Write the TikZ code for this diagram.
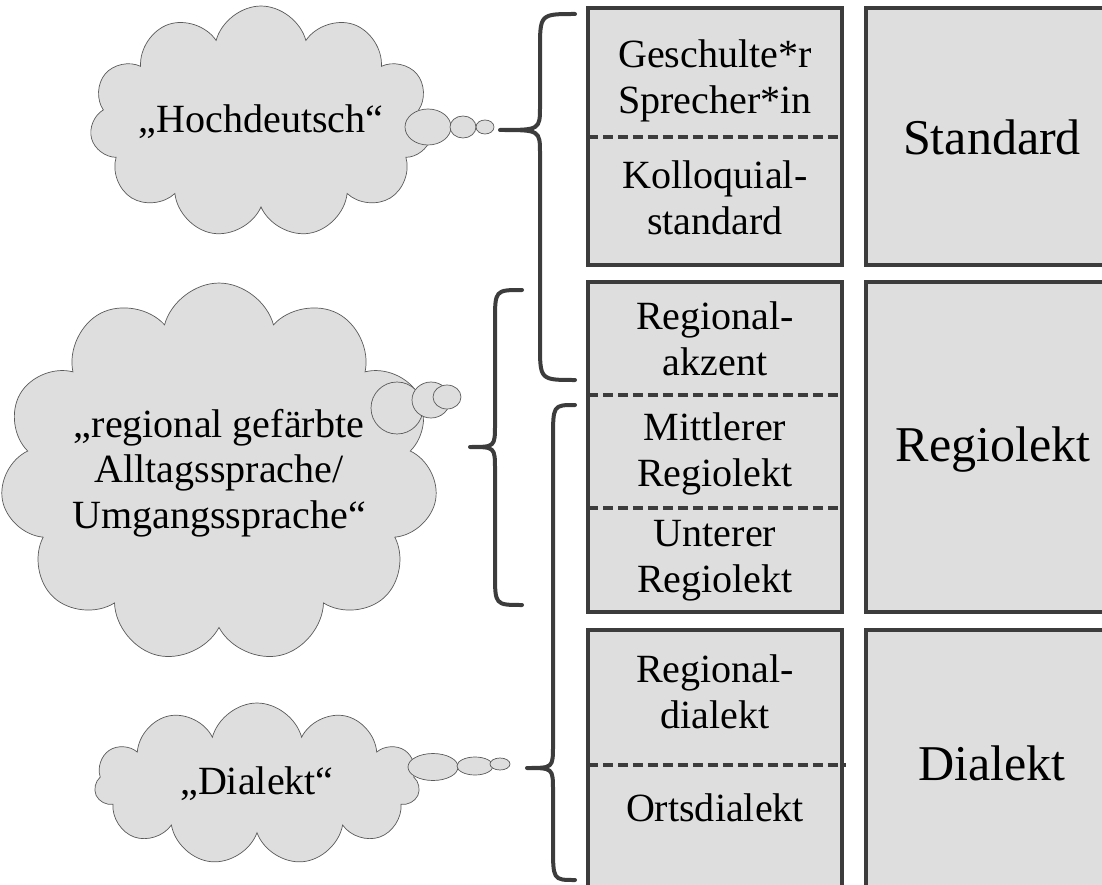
\documentclass[tikz,border=0pt]{standalone}
\usepackage{fontspec}
\setmainfont{Liberation Serif}
\usetikzlibrary{shapes.symbols,shapes.geometric}
\definecolor{boxgray}{HTML}{DEDEDE}
\definecolor{linegray}{HTML}{3C3C3C}
\definecolor{cloudline}{HTML}{5A5A5A}
\tikzset{
  tier/.style={draw=linegray, line width=0.09cm, fill=boxgray},
  divider/.style={draw=linegray, line width=0.075cm, dash pattern=on 0.2cm off 0.1cm},
  bracket/.style={draw=linegray, line width=0.08cm, line cap=round, line join=round},
  label/.style={align=center, font=\fontsize{22.8}{26}\selectfont},
  biglabel/.style={align=center, font=\fontsize{28.5}{32}\selectfont},
  thought/.style={cloud, cloud puffs=11, cloud ignores aspect, draw=cloudline, fill=boxgray, thin,
    align=center, inner sep=0pt, font=\fontsize{22.8}{26}\selectfont},
  bubble/.style={ellipse, draw=cloudline, fill=boxgray, thin, inner sep=0pt},
}
\begin{document}
\begin{tikzpicture}[x=0.02cm, y=-0.02cm]
\useasboundingbox (0,0) rectangle (1102,885);
\clip (0,0) rectangle (1102,885);

% boxes
\draw[tier] (588,8) rectangle (842,265);
\draw[tier] (866,8) rectangle (1130,265);
\draw[tier] (588,282) rectangle (842,612);
\draw[tier] (866,282) rectangle (1130,612);
\draw[tier] (588,630) rectangle (842,900);
\draw[tier] (866,630) rectangle (1130,900);
\draw[divider] (588,137) -- (842,137);
\draw[divider] (588,395) -- (842,395);
\draw[divider] (588,508) -- (842,508);
\draw[divider] (588,765) -- (846,765);

\node[label] (geschult) at (715,81) {Geschulte*r\\Sprecher*in};
\node[label] (kolloq) at (715,198) {Kolloquial-\\standard};
\node[label] (regakzent) at (715,339) {Regional-\\akzent};
\node[label] (mittel) at (715,454) {Mittlerer\\Regiolekt};
\node[label] (unter) at (715,561) {Unterer\\Regiolekt};
\node[label] (regdial) at (715,692) {Regional-\\dialekt};
\node[label] (ortsdial) at (715,808) {Ortsdialekt};
\node[biglabel] (standard) at (992,137) {Standard};
\node[biglabel] (regiolekt) at (993,450) {Regiolekt};
\node[biglabel] (dialekt) at (992,763) {Dialekt};

% clouds
\node[thought, minimum width=6.7cm, minimum height=4.64cm] (hoch) at (261,122) {„Hochdeutsch“};
\node[thought, minimum width=7.9cm, minimum height=7.6cm] (umgang) at (219,473)
  {„regional gefärbte\\Alltagssprache/\\Umgangssprache“};
\node[thought, minimum width=6.5cm, minimum height=3.24cm] (dial) at (257,784) {„Dialekt“};

\node[bubble, minimum width=0.92cm, minimum height=0.72cm] (hochA) at (428,127) {};
\node[bubble, minimum width=0.52cm, minimum height=0.44cm] (hochB) at (463,127) {};
\node[bubble, minimum width=0.36cm, minimum height=0.28cm] (hochC) at (485,127) {};
\node[bubble, minimum width=1.04cm, minimum height=1.04cm] (umgangA) at (397,408) {};
\node[bubble, minimum width=0.76cm, minimum height=0.72cm] (umgangB) at (431,400) {};
\node[bubble, minimum width=0.56cm, minimum height=0.48cm] (umgangC) at (447,397) {};
\node[bubble, minimum width=1.0cm, minimum height=0.54cm] (dialA) at (433,767) {};
\node[bubble, minimum width=0.72cm, minimum height=0.36cm] (dialB) at (475,766) {};
\node[bubble, minimum width=0.4cm, minimum height=0.24cm] (dialC) at (500,764) {};

% braces
\draw[bracket] (575,14) .. controls (540,14) .. (540,50) -- (540,106)
  .. controls (540,130) .. (500,130) .. controls (540,130) .. (540,154)
  -- (540,344) .. controls (540,380) .. (575,380);
\draw[bracket] (522,290) .. controls (495,290) .. (495,322) -- (495,424)
  .. controls (495,447) .. (470,447) .. controls (495,447) .. (495,470)
  -- (495,573) .. controls (495,605) .. (522,605);
\draw[bracket] (575,405) .. controls (553,405) .. (553,440) -- (553,745)
  .. controls (553,768) .. (527,768) .. controls (553,768) .. (553,791)
  -- (553,845) .. controls (553,880) .. (575,880);
\end{tikzpicture}
\end{document}
